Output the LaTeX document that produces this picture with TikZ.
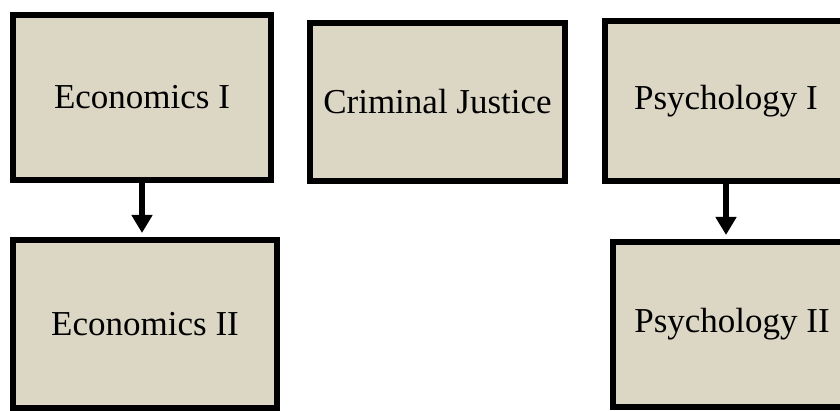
\documentclass[tikz,border=0pt]{standalone}
\usepackage{fontspec}
\setmainfont{Liberation Serif}
\usetikzlibrary{arrows.meta}
\definecolor{boxfill}{RGB}{219,215,196}
\begin{document}
\begin{tikzpicture}[x=1pt, y=-1pt,
  course/.style={draw, line width=6pt, fill=boxfill, inner sep=0pt,
    font=\fontsize{35}{42}\selectfont},
  prereq/.style={line width=6pt, -{Triangle[width=20pt,length=18pt]}, shorten >=4pt}]
  \clip (0,0) rectangle (840,411);

  % Top row of courses
  \node[course, minimum width=258pt, minimum height=165pt] (econ1) at (142,97.5) {Economics I};
  \node[course, minimum width=255pt, minimum height=158pt] (crimjust) at (437.5,102) {Criminal Justice};
  \node[course, minimum width=242pt, minimum height=160pt] (psych1) at (726,101) {Psychology I};

  % Second row
  \node[course, minimum width=264pt, minimum height=168pt] (econ2) at (145,324) {Economics II};
  \node[course, minimum width=238pt, minimum height=165pt] (psych2) at (732,324.5) {Psychology II};

  % Prerequisites
  \draw[prereq] (econ1.south) -- (econ1.south |- econ2.north);
  \draw[prereq] (psych1.south) -- (psych1.south |- psych2.north);
\end{tikzpicture}
\end{document}
